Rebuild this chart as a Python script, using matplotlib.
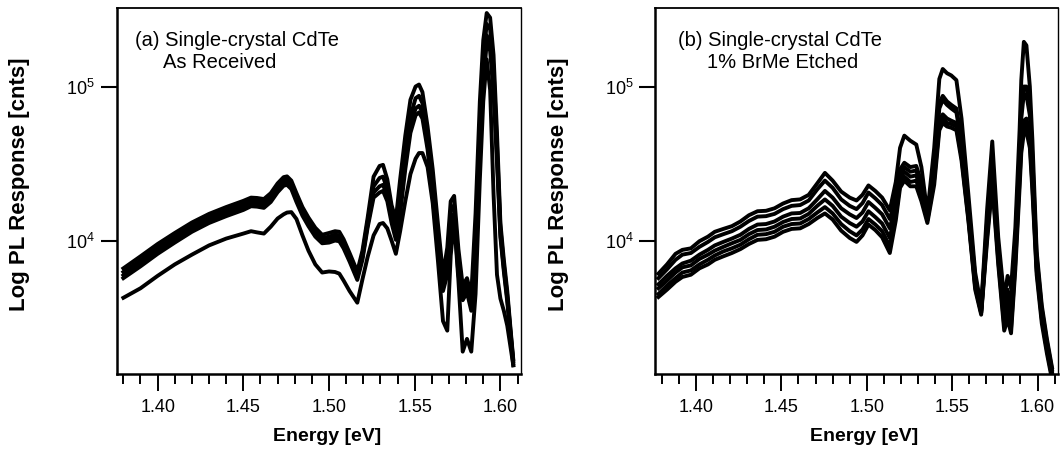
# PL spectra of single-crystal CdTe, two panels (as received / BrMe etched)
import matplotlib
matplotlib.use("Agg")
import matplotlib.pyplot as plt
from matplotlib.ticker import FixedLocator, NullLocator, MultipleLocator

plt.rcParams["font.family"] = ["Liberation Sans", "DejaVu Sans"]

# ---- panel (a): as received ----
energy_a = [1.380, 1.390, 1.400, 1.410, 1.420, 1.430, 1.440, 1.450, 1.4545, 1.458,
            1.462, 1.466, 1.470, 1.4735, 1.4755, 1.478, 1.481, 1.4845, 1.488, 1.492,
            1.496, 1.500, 1.5035, 1.506, 1.5085, 1.512, 1.5165, 1.5195, 1.5225, 1.526,
            1.5295, 1.5315, 1.534, 1.5365, 1.539, 1.5415, 1.5445, 1.5475, 1.5505, 1.5525,
            1.5545, 1.5575, 1.5605, 1.5635, 1.5665, 1.569, 1.571, 1.573, 1.5755, 1.578,
            1.5805, 1.583, 1.5855, 1.588, 1.590, 1.592, 1.594, 1.596, 1.598, 1.600,
            1.602, 1.604, 1.606, 1.6075]

a1 = [6600, 7900, 9500, 11200, 13100, 14900, 16500, 18100, 19000, 18900,
      18600, 20300, 23500, 25800, 26100, 24500, 20300, 16500, 14100, 12100,
      10900, 11200, 11500, 11400, 10200, 8300, 6300, 8600, 14000, 26000,
      30500, 31000, 25000, 17000, 13700, 25000, 48000, 82000, 100000, 103000,
      92000, 55000, 29000, 13000, 6000, 9000, 18000, 19500, 8800, 5100,
      5700, 4400, 15000, 80000, 200000, 300000, 280000, 160000, 50000, 13000,
      7500, 4700, 2600, 1700]
a2 = [6250, 7450, 9000, 10600, 12450, 14200, 15700, 17250, 18150, 18050,
      17750, 19400, 22400, 24700, 25000, 23500, 19400, 15800, 13500, 11500,
      10400, 10600, 10950, 10800, 9700, 7950, 6000, 8150, 13200, 22500,
      25500, 26000, 21500, 15000, 12000, 19000, 36000, 64000, 84000, 87000,
      78000, 48000, 24000, 11000, 5400, 7500, 15500, 17000, 7500, 4700,
      5200, 4000, 10000, 55000, 150000, 255000, 235000, 130000, 42000, 12000,
      7000, 4400, 2500, 1650]
a3 = [5950, 7100, 8600, 10200, 11950, 13600, 15100, 16550, 17400, 17300,
      17000, 18600, 21500, 23700, 24000, 22500, 18600, 15200, 12900, 11050,
      10000, 10200, 10450, 10350, 9300, 7650, 5800, 7800, 12600, 20500,
      22500, 23000, 19500, 14000, 11000, 16500, 32000, 55000, 72000, 75000,
      68000, 42000, 21000, 9800, 5000, 6500, 13500, 15000, 6600, 4400,
      4900, 3700, 8500, 45000, 120000, 215000, 195000, 105000, 36000, 11000,
      6600, 4200, 2400, 1600]
a4 = [5700, 6800, 8200, 9700, 11400, 13000, 14400, 15800, 16700, 16600,
      16300, 17800, 20600, 22700, 23000, 21600, 17800, 14500, 12400, 10600,
      9600, 9700, 10000, 9900, 8900, 7300, 5550, 7500, 12100, 19000,
      20500, 21000, 18000, 13000, 10100, 15000, 29000, 50000, 65000, 68000,
      62000, 39000, 19000, 9000, 4700, 6000, 12500, 14000, 6000, 4100,
      4600, 3500, 7500, 38000, 100000, 195000, 170000, 90000, 32000, 10500,
      6300, 4000, 2300, 1550]
a5 = [4250, 4900, 5900, 7000, 8100, 9300, 10300, 11100, 11500, 11300,
      11100, 12300, 13900, 14800, 15200, 15300, 13800, 10800, 8600, 7000,
      6200, 6300, 6250, 6100, 5500, 4700, 3950, 5600, 7800, 10800,
      12800, 13000, 12000, 10000, 8200, 11500, 18000, 27000, 34000, 37000,
      37000, 30000, 17500, 7500, 3000, 2600, 8000, 13500, 5500, 1900,
      2300, 1900, 4500, 25000, 80000, 150000, 95000, 20000, 6000, 4200,
      3500, 2800, 2000, 1550]

# ---- panel (b): 1% BrMe etched ----
energy_b = [1.378, 1.383, 1.388, 1.392, 1.397, 1.402, 1.407, 1.411, 1.416, 1.421,
            1.426, 1.431, 1.436, 1.441, 1.446, 1.451, 1.456, 1.461, 1.466, 1.471,
            1.4755, 1.480, 1.485, 1.490, 1.494, 1.4975, 1.501, 1.505, 1.509, 1.5135,
            1.517, 1.5195, 1.522, 1.5255, 1.529, 1.532, 1.5355, 1.5395, 1.5425, 1.5445,
            1.547, 1.5495, 1.5525, 1.5555, 1.5595, 1.5635, 1.567, 1.5705, 1.5735, 1.577,
            1.5805, 1.5825, 1.5845, 1.587, 1.5895, 1.5905, 1.592, 1.5935, 1.5955, 1.597,
            1.5995, 1.6025, 1.6055, 1.6085]

b1 = [6100, 7000, 8200, 8700, 8900, 9900, 10600, 11400, 11900, 12400,
      13300, 14600, 15500, 15600, 16200, 17400, 18300, 18500, 19800, 23500,
      27500, 24500, 20800, 19000, 18200, 19800, 22800, 21000, 19000, 15700,
      24000, 40000, 48000, 44500, 42000, 30000, 15000, 40000, 112000, 130000,
      122000, 118000, 110000, 62000, 20000, 6200, 3700, 16000, 44000, 10500,
      4200, 5900, 4900, 12000, 52000, 110000, 195000, 185000, 100000, 45000,
      8500, 3800, 2300, 1500]
b2 = [5700, 6500, 7500, 8100, 8300, 9100, 9800, 10500, 11000, 11500,
      12300, 13400, 14300, 14400, 14900, 16000, 16800, 17000, 18200, 21500,
      24500, 22000, 18500, 16800, 16000, 17500, 20500, 18800, 17000, 13800,
      19000, 29000, 32000, 30000, 30500, 24000, 14500, 32000, 78000, 87000,
      80000, 76000, 72000, 45000, 16500, 5800, 3600, 13500, 32000, 9000,
      3700, 4800, 3900, 10000, 38000, 70000, 100000, 100000, 75000, 35000,
      7800, 3600, 2200, 1450]
b3 = [5200, 5900, 6600, 7100, 7400, 8100, 8700, 9300, 9800, 10300,
      10900, 11900, 12700, 12800, 13300, 14300, 15000, 15100, 16200, 18500,
      21000, 19000, 16200, 14800, 14000, 15200, 17800, 16300, 14800, 12000,
      17500, 27000, 30000, 28000, 28500, 22500, 14000, 30000, 72000, 82000,
      76000, 72000, 68000, 42000, 15500, 5500, 3500, 12500, 30000, 8500,
      3300, 4300, 3400, 9000, 34000, 62000, 90000, 88000, 65000, 30000,
      7300, 3400, 2100, 1400]
b4 = [4900, 5500, 6200, 6700, 6900, 7600, 8100, 8600, 9100, 9600,
      10100, 11000, 11700, 11800, 12300, 13200, 13800, 13900, 14900, 16800,
      18500, 16800, 14300, 13000, 12300, 13300, 15500, 14200, 12900, 10400,
      16000, 25000, 28000, 26000, 26500, 21000, 14000, 27000, 60000, 66000,
      62000, 60000, 58000, 37000, 14500, 5200, 3400, 11500, 27000, 8000,
      3000, 3800, 3000, 8000, 28000, 45000, 60000, 62000, 48000, 26000,
      6800, 3200, 2000, 1350]
b5 = [4500, 5100, 5700, 6200, 6400, 7000, 7500, 8000, 8500, 8900,
      9400, 10200, 10900, 11000, 11400, 12300, 12800, 12900, 13800, 15200,
      16500, 15000, 12800, 11500, 10800, 11800, 13800, 12700, 11500, 9200,
      14500, 23500, 26000, 24000, 24500, 19500, 13500, 25000, 56000, 62000,
      58000, 57000, 55000, 35000, 14000, 5000, 3400, 10800, 25000, 7500,
      2800, 3400, 2700, 7200, 25000, 41000, 55000, 56000, 44000, 23000,
      6400, 3100, 1950, 1300]
b6 = [4300, 4800, 5400, 5800, 6000, 6600, 7000, 7500, 7900, 8300,
      8800, 9500, 10100, 10200, 10600, 11400, 11900, 12000, 12800, 14000,
      15000, 13700, 11600, 10400, 9800, 10800, 12700, 11700, 10500, 8300,
      13500, 22000, 24500, 22500, 22500, 18000, 13000, 23000, 52000, 58000,
      55000, 54000, 52000, 33000, 13500, 4800, 3300, 10000, 23000, 7000,
      2600, 3100, 2500, 6500, 22000, 37000, 50000, 51000, 40000, 21000,
      6000, 2900, 1850, 1250]

x_ticks = [1.40, 1.45, 1.50, 1.55, 1.60]
y_ticks = [1e4, 1e5]
y_tick_labels = [r"$\mathregular{10^4}$", r"$\mathregular{10^5}$"]

fig = plt.figure(figsize=(10.63, 4.51), dpi=100)
ax_a = fig.add_axes([0.1096, 0.1707, 0.3805, 0.8109])
ax_b = fig.add_axes([0.6162, 0.1707, 0.3791, 0.8109])

for y in [a1, a2, a3, a4, a5]:
    ax_a.plot(energy_a, y, color="black", lw=2.8, solid_joinstyle="round")
for y in [b1, b2, b3, b4, b5, b6]:
    ax_b.plot(energy_b, y, color="black", lw=2.8, solid_joinstyle="round")

for ax in [ax_a, ax_b]:
    ax.set_yscale("log")
    ax.set_xlim(1.376, 1.612)
    ax.set_ylim(1360, 3.22e5)
    ax.yaxis.set_major_locator(FixedLocator(y_ticks))
    ax.yaxis.set_minor_locator(NullLocator())
    ax.set_yticklabels(y_tick_labels)
    ax.xaxis.set_major_locator(FixedLocator(x_ticks))
    ax.xaxis.set_minor_locator(MultipleLocator(0.01))
    ax.set_xticklabels(["%.2f" % t for t in x_ticks])
    ax.tick_params(axis="y", which="major", direction="out", length=11.5,
                   width=1.5, labelsize=13, pad=4)
    ax.tick_params(axis="x", which="major", direction="out", length=12,
                   width=1.4, labelsize=13, pad=6)
    ax.tick_params(axis="x", which="minor", direction="out", length=7, width=1.4)
    ax.tick_params(top=False, right=False)
    ax.spines["left"].set_linewidth(1.8)
    ax.spines["bottom"].set_linewidth(1.8)
    ax.spines["top"].set_linewidth(1.3)
    ax.spines["right"].set_linewidth(1.0)
    ax.set_xlabel("Energy [eV]", fontsize=14, fontweight="bold")
    ax.set_ylabel("Log PL Response [cnts]", fontsize=16, fontweight="bold")
    ax.xaxis.set_label_coords(0.52, -0.148)
    ax.yaxis.set_label_coords(-0.214, 0.52)

ax_a.text(0.046, 0.913, "(a) Single-crystal CdTe", transform=ax_a.transAxes,
          fontsize=14.5, va="center", ha="left")
ax_a.text(0.115, 0.853, "As Received", transform=ax_a.transAxes,
          fontsize=14.5, va="center", ha="left")
ax_b.text(0.057, 0.913, "(b) Single-crystal CdTe", transform=ax_b.transAxes,
          fontsize=14.5, va="center", ha="left")
ax_b.text(0.129, 0.853, "1% BrMe Etched", transform=ax_b.transAxes,
          fontsize=14.5, va="center", ha="left")

fig.savefig("out.png", dpi=100, facecolor="white")
